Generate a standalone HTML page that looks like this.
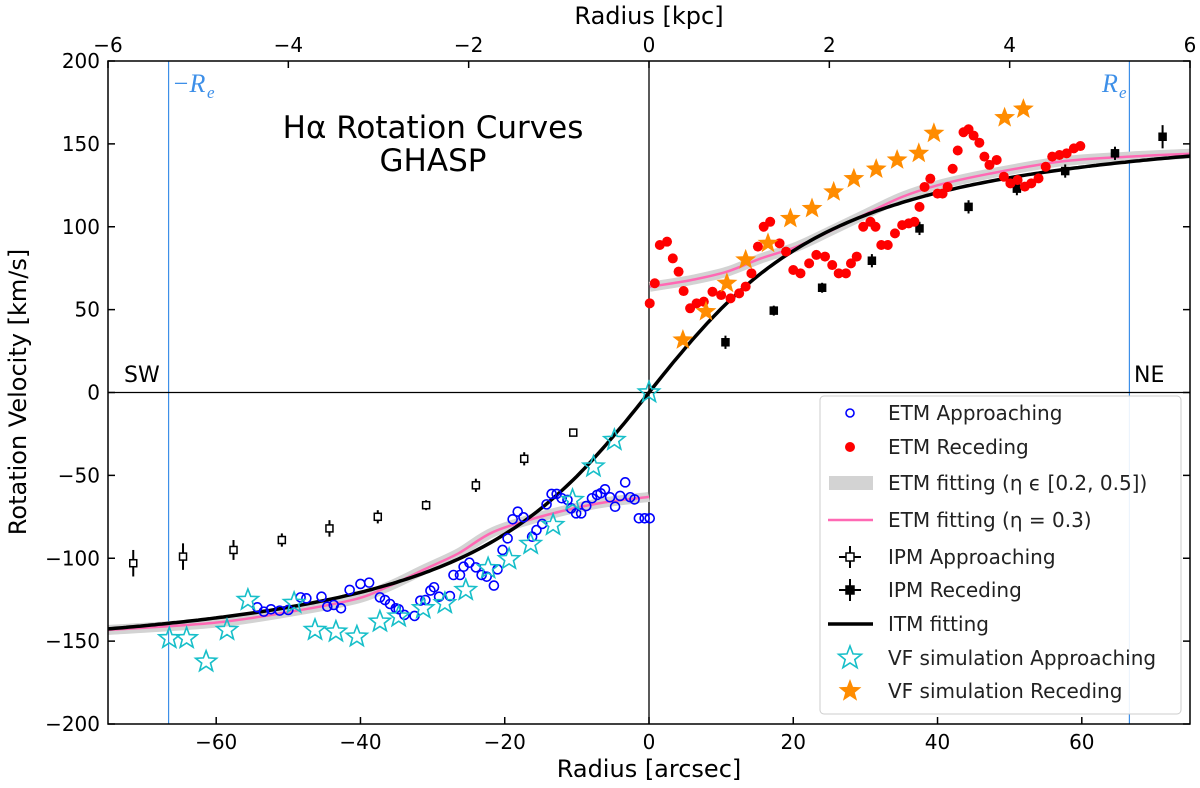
<!DOCTYPE html>
<html><head><meta charset="utf-8"><style>
html,body{margin:0;padding:0;background:#fff;}
svg{display:block;font-family:"DejaVu Sans","Liberation Sans",sans-serif;}
</style></head><body>
<svg id="chart" width="1200" height="788" viewBox="0 0 1200 788"></svg>
<script>
// ---- data (arcsec, km/s) ----
const etmRecX=[0.1,0.8,1.5,2.5,3.3,4.1,4.8,5.7,6.6,7.6,8.8,10.0,11.3,12.5,13.4,14.2,15.1,15.9,16.8,18.1,19.0,20.0,21.0,22.2,23.2,24.4,25.4,26.3,27.3,28.0,28.8,29.7,30.7,31.4,32.2,33.1,34.1,35.1,36.0,36.8,37.5,38.2,39.0,40.0,40.7,41.4,42.1,42.8,43.6,44.3,45.0,45.8,46.5,47.2,48.2,49.2,50.1,51.1,52.1,53.0,54.0,55.0,55.9,56.9,57.9,58.9,59.8];
const etmRecV=[53.8,65.9,89,91,80.9,72.9,61.2,50.8,53.8,54.8,60.8,58.8,56.8,59.8,63.9,71.9,88,100,103,90,85,73.9,71.9,77.9,83,82,76.9,71.9,71.9,77.9,82,100,103,100,89,89,96,101,102,103,112,124,129,120,120,124,135,146,157,158.8,155,150.7,142.3,137.3,140.3,130.2,126.2,128.2,124.2,126.2,129.2,136.2,142.3,143.3,144.3,147.3,148.7];
const etmAppX=[-54.3,-53.4,-52.4,-51.2,-50.0,-48.3,-47.5,-45.4,-44.6,-43.7,-42.7,-41.5,-40.0,-38.8,-37.3,-36.6,-35.9,-35.1,-34.7,-33.9,-32.5,-31.7,-31.0,-30.3,-29.8,-29.1,-27.6,-27.1,-26.2,-25.7,-24.9,-24.0,-23.2,-22.5,-21.5,-21.0,-20.3,-19.6,-18.9,-18.2,-17.4,-16.2,-15.6,-14.8,-14.2,-13.5,-12.8,-12.1,-11.3,-10.8,-10.1,-9.4,-8.7,-7.9,-7.2,-6.7,-6.1,-5.4,-4.7,-4.0,-3.3,-2.6,-2.0,-1.4,-0.6,0.1];
const etmAppV=[-129.6,-132.2,-130.8,-131.6,-131.2,-123.6,-124.2,-123.2,-129.2,-128.2,-130.2,-119.1,-115.5,-114.7,-123.6,-125.2,-127.6,-130.2,-130.8,-134.2,-134.8,-125.6,-125.2,-119.5,-117.5,-123.2,-122.8,-110.1,-110.1,-105.1,-102.7,-105.5,-110.1,-111.1,-116.5,-106.7,-95,-88,-76.5,-71.9,-75.3,-87,-83,-79.3,-67.5,-61.2,-61.2,-63.8,-64.8,-69.9,-72.9,-72.9,-68.5,-63.8,-61.8,-60.8,-58.4,-63.2,-68.9,-62.4,-54.2,-63.2,-64.5,-75.9,-75.9,-75.9];
const ipmRecX=[10.6,17.3,24.0,30.9,37.5,44.3,51.0,57.7,64.6,71.2];
const ipmRecV=[30.3,49.4,63.2,79.5,99,112,123,133.6,144.3,154.3];
const ipmRecErr=[4,3,3,4,4,4,4,4,4,7];
const ipmAppX=[-71.5,-64.6,-57.6,-50.9,-44.3,-37.6,-30.9,-24.0,-17.3,-10.5];
const ipmAppV=[-103,-99,-95,-89,-82,-75,-68,-56,-40,-24.2];
const ipmAppErr=[8,8,6,4,5,4,3,4,4,2];
const vfRecX=[4.7,7.9,10.8,13.4,16.5,19.6,22.6,25.6,28.4,31.5,34.4,37.4,39.5,49.3,51.9];
const vfRecV=[31.7,48.8,65.9,80,90,105,111,121,129,134.8,140.3,144.3,156.4,165.8,171];
const vfAppX=[-66.5,-64.1,-61.4,-58.5,-55.6,-49.2,-46.3,-43.4,-40.5,-37.3,-34.7,-31.3,-28.3,-25.4,-22.3,-19.4,-16.4,-13.3,-10.6,-7.7,-4.8,0];
const vfAppV=[-148.3,-148.3,-162.4,-143.3,-125.2,-127,-143.3,-144.3,-147.3,-138.3,-135.2,-130.2,-127.2,-119.2,-106.1,-100.6,-91.4,-80,-64.9,-44.7,-28.7,0];
const pinkX=[-75,-60.4,-50.7,-41,-36.1,-31.3,-26.4,-21.5,-14.2,-7,0.0,0.1,5.9,10.8,15.6,20.5,25.4,30.2,35.1,40,47.2,57,66.6,75];
const pinkV=[-143.3,-139,-133,-125,-117,-107,-97,-84,-73.9,-66.9,-63,63.8,67.9,72.9,81,88,98,108,118,125,132,139.3,142.3,144];
const itmVmax=171, itmRt=20;
const xTicks=[-60,-40,-20,0,20,40,60];
const yTicks=[-200,-150,-100,-50,0,50,100,150,200];
const kpcTicks=[-6,-4,-2,0,2,4,6];
const reArcsec=66.6;

// ---- axes ----
const L=108,R=1190,T=61,B=724;
const X=v=>L+(v+75)/150*(R-L);
const Y=v=>B-(v+200)/400*(B-T);
const XK=k=>X(k*12.5);
const svg=document.getElementById('chart');
const NS='http://www.w3.org/2000/svg';
function mk(tag,attrs,parent){const e=document.createElementNS(NS,tag);for(const k in attrs)e.setAttribute(k,attrs[k]);(parent||svg).appendChild(e);return e;}
function txt(s,attrs,parent){const e=mk('text',attrs,parent);e.textContent=s;return e;}
function star(cx,cy,r){let p=[];for(let i=0;i<10;i++){const a=-Math.PI/2+i*Math.PI/5;const rr=i%2?r*0.42:r;p.push((cx+rr*Math.cos(a)).toFixed(1)+','+(cy+rr*Math.sin(a)).toFixed(1));}return p.join(' ');}

const clip=mk('clipPath',{id:'pc'});mk('rect',{x:L,y:T,width:R-L,height:B-T},clip);
const plot=mk('g',{'clip-path':'url(#pc)'});



let e=mk('line',{x1:X(-reArcsec),x2:X(-reArcsec),y1:T,y2:B,stroke:'#3d8fe8','stroke-width':1.2},plot);

e=mk('line',{x1:X(reArcsec),x2:X(reArcsec),y1:T,y2:B,stroke:'#3d8fe8','stroke-width':1.2},plot);

e=mk('line',{x1:L,x2:R,y1:Y(0),y2:Y(0),stroke:'#000','stroke-width':1.3},plot);

e=mk('line',{x1:X(0),x2:X(0),y1:T,y2:B,stroke:'#000','stroke-width':1.3},plot);


// smooth (Catmull-Rom) path
function smooth(pts){let d='M'+pts[0][0].toFixed(1)+','+pts[0][1].toFixed(1);
for(let i=0;i<pts.length-1;i++){const p0=pts[Math.max(0,i-1)],p1=pts[i],p2=pts[i+1],p3=pts[Math.min(pts.length-1,i+2)];
const c1=[p1[0]+(p2[0]-p0[0])/6,p1[1]+(p2[1]-p0[1])/6],c2=[p2[0]-(p3[0]-p1[0])/6,p2[1]-(p3[1]-p1[1])/6];
d+=' C'+c1.map(v=>v.toFixed(1)).join(',')+' '+c2.map(v=>v.toFixed(1)).join(',')+' '+p2[0].toFixed(1)+','+p2[1].toFixed(1);}return d;}
function pinkPath(){let neg=[],pos=[];pinkX.forEach((x,i)=>{(x<=0?neg:pos).push([X(x),Y(pinkV[i])]);});return smooth(neg)+' '+smooth(pos);}
e=mk('path',{d:pinkPath(),fill:'none',stroke:'#d3d3d3','stroke-width':10,'stroke-linejoin':'round'},plot);

e=mk('path',{d:pinkPath(),fill:'none',stroke:'#ff69b4','stroke-width':2.5,'stroke-linejoin':'round'},plot);


let d='';for(let x=-75;x<=75.01;x+=0.5){const v=itmVmax*2/Math.PI*Math.atan(x/itmRt);d+=(d?' L':'M')+X(x).toFixed(1)+','+Y(v).toFixed(1);}
e=mk('path',{d:d,fill:'none',stroke:'#000','stroke-width':3.5},plot);


function ipm(xs,vs,errs,fill,name){xs.forEach((x,i)=>{const g=mk('g',{},plot);

const cx=X(x),cy=Y(vs[i]),ey=errs[i]*(B-T)/400;
mk('line',{x1:cx,x2:cx,y1:cy-ey,y2:cy+ey,stroke:'#000','stroke-width':2},g);
mk('rect',{x:cx-3.5,y:cy-3.5,width:7,height:7,fill:fill,stroke:'#000','stroke-width':1.5},g);});}
ipm(ipmAppX,ipmAppV,ipmAppErr,'#fff','ipm-approaching-point');
ipm(ipmRecX,ipmRecV,ipmRecErr,'#000','ipm-receding-point');

etmAppX.forEach((x,i)=>{const c=mk('circle',{cx:X(x),cy:Y(etmAppV[i]),r:4.5,fill:'none',stroke:'#0000ff','stroke-width':1.6},plot);
});
etmRecX.forEach((x,i)=>{const c=mk('circle',{cx:X(x),cy:Y(etmRecV[i]),r:5,fill:'#ff0000'},plot);
});
vfAppX.forEach((x,i)=>{const s=mk('polygon',{points:star(X(x),Y(vfAppV[i]),11),fill:'none',stroke:'#17bfc9','stroke-width':1.6},plot);
});
vfRecX.forEach((x,i)=>{const s=mk('polygon',{points:star(X(x),Y(vfRecV[i]),11),fill:'#ff8c00'},plot);
});

e=mk('rect',{x:L,y:T,width:R-L,height:B-T,fill:'none',stroke:'#000','stroke-width':1.5});


xTicks.forEach(t=>{const x=X(t);
mk('line',{x1:x,x2:x,y1:B,y2:B-7,stroke:'#000','stroke-width':1.5});
const l=txt(String(t).replace('-','−'),{x:x,y:B+25,'font-size':20,'text-anchor':'middle'});
});
kpcTicks.forEach(t=>{const x=XK(t);
mk('line',{x1:x,x2:x,y1:T,y2:T+7,stroke:'#000','stroke-width':1.5});
const l=txt(String(t).replace('-','−'),{x:x,y:T-9,'font-size':20,'text-anchor':'middle'});
});
yTicks.forEach(t=>{const y=Y(t);
mk('line',{x1:L,x2:L+7,y1:y,y2:y,stroke:'#000','stroke-width':1.5});
mk('line',{x1:R,x2:R-7,y1:y,y2:y,stroke:'#000','stroke-width':1.5});
const l=txt(String(t).replace('-','−'),{x:L-8,y:y+7,'font-size':20,'text-anchor':'end'});
});

e=txt('Radius [arcsec]',{x:649,y:777,'font-size':24,'text-anchor':'middle'});
e=txt('Radius [kpc]',{x:649,y:24,'font-size':24,'text-anchor':'middle'});
e=txt('Rotation Velocity [km/s]',{x:0,y:0,'font-size':24,'text-anchor':'middle',transform:'translate(26,392) rotate(-90)'});
e=txt('Hα Rotation Curves',{x:433,y:138,'font-size':31,'text-anchor':'middle'});
e=txt('GHASP',{x:433,y:171,'font-size':31,'text-anchor':'middle'});
e=txt('SW',{x:124,y:382,'font-size':22});
e=txt('NE',{x:1134,y:382,'font-size':22});
e=txt('−R',{x:172,y:92,'font-size':26,fill:'#3d8fe8','font-style':'italic','font-family':'Liberation Serif,serif'});
txt('e',{x:207,y:98,'font-size':17,fill:'#3d8fe8','font-style':'italic','font-family':'Liberation Serif,serif'});
e=txt('R',{x:1102,y:92,'font-size':26,fill:'#3d8fe8','font-style':'italic','font-family':'Liberation Serif,serif'});
txt('e',{x:1119,y:98,'font-size':17,fill:'#3d8fe8','font-style':'italic','font-family':'Liberation Serif,serif'});

const lg=mk('g',{});
mk('rect',{x:820,y:396,width:361,height:318,rx:4,fill:'#fff','fill-opacity':0.9,stroke:'#ccc','stroke-width':1},lg);
const labels=['ETM Approaching','ETM Receding','ETM fitting (η ϵ [0.2, 0.5])','ETM fitting (η = 0.3)','IPM Approaching','IPM Receding','ITM fitting','VF simulation Approaching','VF simulation Receding'];
const rows=[413,447,483,520,557,590,624,658,691];
labels.forEach((s,i)=>{const y=rows[i];const g=mk('g',{},lg);

const mx=850;
if(i==0)mk('circle',{cx:mx,cy:y,r:4,fill:'none',stroke:'#00f','stroke-width':1.6},g);
if(i==1)mk('circle',{cx:mx,cy:y,r:5,fill:'#f00'},g);
if(i==2)mk('rect',{x:829,y:y-7,width:44,height:14,fill:'#d3d3d3'},g);
if(i==3)mk('line',{x1:828,x2:873,y1:y,y2:y,stroke:'#ff69b4','stroke-width':2.5},g);
if(i==4||i==5){mk('line',{x1:mx,x2:mx,y1:y-11,y2:y+11,stroke:'#000','stroke-width':2},g);mk('line',{x1:mx-11,x2:mx+11,y1:y,y2:y,stroke:'#000','stroke-width':2},g);mk('rect',{x:mx-4,y:y-4,width:8,height:8,fill:i==4?'#fff':'#000',stroke:'#000','stroke-width':1.5},g);}
if(i==6)mk('line',{x1:828,x2:873,y1:y,y2:y,stroke:'#000','stroke-width':3.5},g);
if(i==7)mk('polygon',{points:star(mx,y,12),fill:'none',stroke:'#17bfc9','stroke-width':1.6},g);
if(i==8)mk('polygon',{points:star(mx,y,12),fill:'#ff8c00'},g);
txt(s,{x:888,y:y+7,'font-size':20,fill:'#222'},g);});
</script>
</body></html>
